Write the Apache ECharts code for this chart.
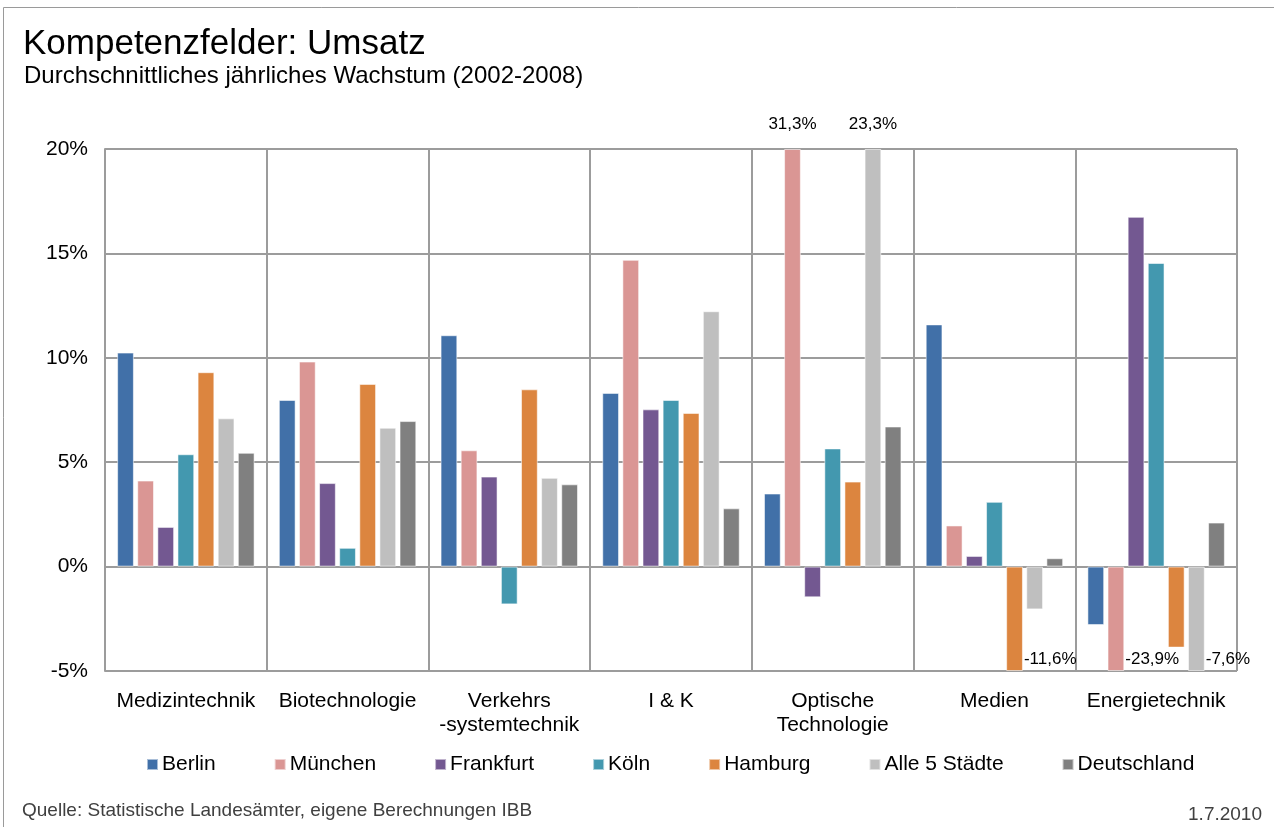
<!DOCTYPE html>
<html>
<head>
<meta charset="utf-8">
<title>Kompetenzfelder: Umsatz</title>
<script src="https://cdn.jsdelivr.net/npm/echarts@6/dist/echarts.min.js"></script>
<style>
  html, body { margin: 0; padding: 0; background: #fff; }
  #chart { width: 1274px; height: 827px; }
</style>
</head>
<body>
<div id="chart"></div>
<script>
// Kategorien (Kompetenzfelder)
var categories = ['Medizintechnik', 'Biotechnologie', 'Verkehrs\n-systemtechnik', 'I & K',
  'Optische\nTechnologie', 'Medien', 'Energietechnik']

// durchschnittliches jährliches Wachstum in %
var berlin      = [10.25, 7.98, 11.08, 8.32, 3.5, 11.6, -2.8]
var muenchen    = [4.12, 9.82, 5.57, 14.69, 31.3, 1.97, -23.9]
var frankfurt   = [1.9, 4.0, 4.31, 7.53, -1.47, 0.51, 16.75]
var koeln       = [5.38, 0.9, -1.81, 7.98, 5.66, 3.1, 14.54]
var hamburg     = [9.31, 8.75, 8.49, 7.36, 4.07, -11.6, -3.88]
var alle5       = [7.1, 6.65, 4.25, 12.23, 23.3, -2.05, -7.6]
var deutschland = [5.45, 6.97, 3.94, 2.79, 6.71, 0.4, 2.11]

var seriesNames = ['Berlin', 'München', 'Frankfurt', 'Köln', 'Hamburg', 'Alle 5 Städte', 'Deutschland']
var seriesColors = ['#4170a8', '#da9694', '#735891', '#4398af', '#dc853f', '#bfbfbf', '#808080']

var yTicks = { min: -5, max: 20, step: 5 }

var font = '"Liberation Sans", Arial, sans-serif'
var gridColor = '#9c9c9c'

function fmt(v) {
  return v.toFixed(1).replace('.', ',') + '%'
}

// Werte ausserhalb der Achse werden abgeschnitten und beschriftet
function buildData(values) {
  return values.map(function (v) {
    if (v > yTicks.max) {
      return {
        value: yTicks.max,
        label: { show: true, position: 'top', distance: 16, formatter: fmt(v) }
      }
    }
    if (v < yTicks.min) {
      return {
        value: yTicks.min,
        label: { show: true, position: 'right', distance: 1, offset: [0, 41], formatter: fmt(v) }
      }
    }
    return v
  })
}

var allValues = [berlin, muenchen, frankfurt, koeln, hamburg, alle5, deutschland]

var chart = echarts.init(document.getElementById('chart'))

chart.setOption({
  animation: false,
  backgroundColor: '#fff',
  textStyle: { fontFamily: font },
  title: [
    {
      text: 'Kompetenzfelder: Umsatz',
      left: 18, top: 22,
      textStyle: { fontSize: 35, fontWeight: 'normal', color: '#000', fontFamily: font }
    },
    {
      text: 'Durchschnittliches jährliches Wachstum (2002-2008)',
      left: 19, top: 59,
      textStyle: { fontSize: 24, fontWeight: 'normal', color: '#000', fontFamily: font }
    },
    {
      text: 'Quelle: Statistische Landesämter, eigene Berechnungen IBB',
      left: 17, top: 796,
      textStyle: { fontSize: 19, fontWeight: 'normal', color: '#404040', fontFamily: font }
    },
    {
      text: '1.7.2010',
      right: 7, top: 800,
      textStyle: { fontSize: 19, fontWeight: 'normal', color: '#404040', fontFamily: font }
    }
  ],
  legend: {
    data: seriesNames,
    left: 141, top: 749,
    icon: 'rect',
    itemWidth: 11, itemHeight: 11,
    itemGap: 58,
    textStyle: { fontSize: 21, color: '#000', fontFamily: font, padding: [0, 0, 0, -1] }
  },
  grid: { left: 105, right: 37, top: 149, bottom: 156 },
  xAxis: {
    type: 'category',
    data: categories,
    axisLine: { show: false, onZero: false },
    axisTick: { show: false },
    splitLine: { show: true, lineStyle: { color: gridColor, width: 2 } },
    axisLabel: {
      interval: 0, margin: 18, fontSize: 21, color: '#000', lineHeight: 24, fontFamily: font
    }
  },
  yAxis: {
    type: 'value',
    min: yTicks.min, max: yTicks.max, interval: yTicks.step,
    axisLine: { show: true, lineStyle: { color: gridColor, width: 2 } },
    axisTick: { show: false },
    splitLine: { show: true, lineStyle: { color: gridColor, width: 2 } },
    axisLabel: {
      formatter: '{value}%', margin: 17, fontSize: 21, color: '#000', fontFamily: font
    }
  },
  graphic: [
    {
      type: 'polyline',
      shape: { points: [[3.5, 827], [3.5, 7.5], [1274, 7.5]] },
      style: { stroke: '#9a9a9a', lineWidth: 1, fill: null }
    }
  ],
  series: allValues.map(function (vals, i) {
    return {
      name: seriesNames[i],
      type: 'bar',
      data: buildData(vals),
      barGap: '20%',
      barCategoryGap: '15%',
      itemStyle: { color: seriesColors[i], borderColor: 'rgba(255,255,255,0.55)', borderWidth: 1 },
      label: { show: false, fontSize: 17, color: '#000', fontFamily: font }
    }
  })
})
</script>
</body>
</html>
